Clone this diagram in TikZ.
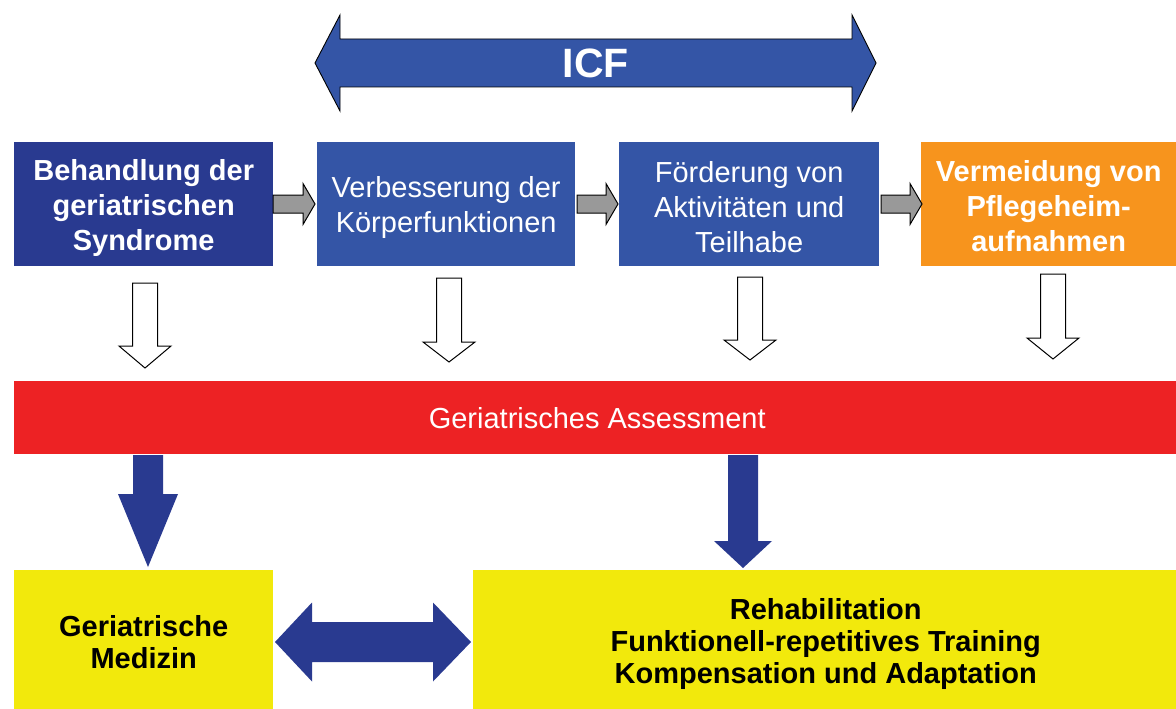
\documentclass[tikz,border=0pt]{standalone}
\usepackage{fontspec}
\setmainfont{Liberation Sans}
\definecolor{boxdark}{HTML}{293A90}
\definecolor{boxblue}{HTML}{3455A6}
\definecolor{boxorange}{HTML}{F7941D}
\definecolor{barred}{HTML}{ED2224}
\definecolor{boxyellow}{HTML}{F2E90C}
\definecolor{arrowblue}{HTML}{293A90}
\definecolor{arrowgray}{HTML}{999999}
\newcommand{\vblock}[7]{%
  \path[#7] (#1-#5,#2) -- (#1+#5,#2) -- (#1+#5,#3) -- (#1+#6,#3) -- (#1,#4)
    -- (#1-#6,#3) -- (#1-#5,#3) -- cycle;}
\newcommand{\hblock}[7]{%
  \path[#7] (#1,#4-#5) -- (#2,#4-#5) -- (#2,#4-#6) -- (#3,#4) -- (#2,#4+#6)
    -- (#2,#4+#5) -- (#1,#4+#5) -- cycle;}
\newcommand{\dblock}[8]{%
  \path[#8] (#1,#5) -- (#2,#5-#7) -- (#2,#5-#6) -- (#3,#5-#6) -- (#3,#5-#7)
    -- (#4,#5) -- (#3,#5+#7) -- (#3,#5+#6) -- (#2,#5+#6) -- (#2,#5+#7) -- cycle;}
\begin{document}
\begin{tikzpicture}[x=1pt,y=-1pt,
  topbox/.style={anchor=north west,inner sep=0pt,minimum height=124pt},
  toptext/.style={inner sep=0pt,align=center,text=white,font=\fontsize{29}{35}\selectfont},
  boldtop/.style={toptext,font=\bfseries\fontsize{29}{35}\selectfont},
  botbox/.style={anchor=north west,inner sep=0pt,minimum height=139pt,fill=boxyellow},
  bottext/.style={inner sep=0pt,align=center,text=black,font=\bfseries\fontsize{29}{32}\selectfont},
  whitearrow/.style={draw=black,fill=white,line width=1pt,line join=miter},
  grayarrow/.style={draw=black,fill=arrowgray,line width=1pt},
  bluearrow/.style={fill=arrowblue},
  icfarrow/.style={draw=black,fill=boxblue,line width=0.9pt}]
\useasboundingbox (0,0) rectangle (1176,709);
\fill[white] (0,0) rectangle (1176,709);

% ICF double arrow
\dblock{315}{340}{852}{876}{63}{24}{48}{icfarrow}
\node[text=white,font=\bfseries\fontsize{41}{45}\selectfont] (icf) at (596,63) {ICF};

% top boxes
\node[topbox,fill=boxdark,minimum width=259pt] (b1) at (14,142) {};
\node[topbox,fill=boxblue,minimum width=258pt] (b2) at (317,142) {};
\node[topbox,fill=boxblue,minimum width=260pt] (b3) at (619,142) {};
\node[topbox,fill=boxorange,minimum width=255pt] (b4) at (921,142) {};
\node[boldtop,yshift=-4pt] (t1) at (b1.center) {Behandlung der\\geriatrischen\\Syndrome};
\node[toptext,yshift=-3pt] (t2) at (b2.center) {Verbesserung der\\Körperfunktionen};
\node[toptext,yshift=-3pt] (t3) at (b3.center) {Förderung von\\Aktivitäten und\\Teilhabe};
\node[boldtop,yshift=-2pt] (t4) at (b4.center) {Vermeidung von\\Pflegeheim-\\aufnahmen};

% gray arrows between top boxes
\hblock{273}{303}{315}{204}{9}{20.5}{grayarrow}
\hblock{577}{606}{618}{204}{9}{20.5}{grayarrow}
\hblock{881}{910}{922}{204}{9}{20.5}{grayarrow}

% white down arrows
\vblock{145}{283}{346}{368}{12.5}{26}{whitearrow}
\vblock{449}{278}{342}{362}{12.5}{26}{whitearrow}
\vblock{750}{277}{340}{360}{12.5}{26}{whitearrow}
\vblock{1053}{274}{338}{359}{12.5}{26}{whitearrow}

% red bar
\node[anchor=north west,inner sep=0pt,fill=barred,minimum width=1162pt,minimum height=73pt,
  text=white,font=\fontsize{29}{35}\selectfont] (ga) at (14,381) {\hspace*{4pt}Geriatrisches Assessment};

% bottom boxes
\node[botbox,minimum width=259pt] (gm) at (14,570) {};
\node[botbox,minimum width=703pt] (reha) at (473,570) {};
\node[bottext,yshift=-2.5pt] (gmt) at (gm.center) {Geriatrische\\Medizin};
\node[bottext,yshift=-4pt,xshift=1pt] (rehat) at (reha.center)
  {Rehabilitation\\Funktionell-repetitives Training\\Kompensation und Adaptation};

% blue arrows
\vblock{148}{455}{494}{567}{15}{30}{bluearrow}
\vblock{743}{455}{541}{568}{15}{29}{bluearrow}
\dblock{275}{312}{433}{471}{642}{20}{39.5}{bluearrow}
\end{tikzpicture}
\end{document}
